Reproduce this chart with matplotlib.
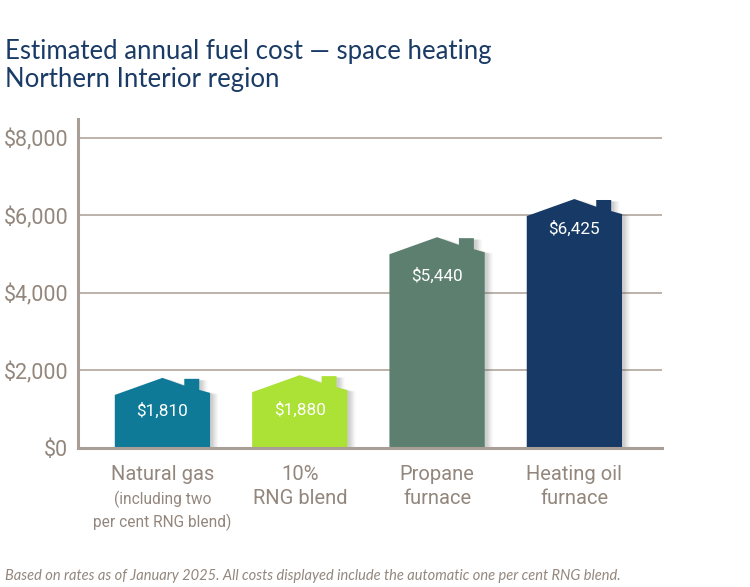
# -*- coding: utf-8 -*-
import matplotlib
matplotlib.use("Agg")
import matplotlib.pyplot as plt
import matplotlib.patheffects as pe

categories = ["Natural gas", "10%\nRNG blend", "Propane\nfurnace", "Heating oil\nfurnace"]
sub_labels = ["(including two\nper cent RNG blend)", "", "", ""]
costs = [1810, 1880, 5440, 6425]
value_labels = ["$1,810", "$1,880", "$5,440", "$6,425"]
colors = ["#0e7a97", "#ace136", "#5c7f70", "#163a65"]
y_ticks = [0, 2000, 4000, 6000, 8000]
y_tick_labels = ["$0", "$2,000", "$4,000", "$6,000", "$8,000"]

TITLE = "Estimated annual fuel cost \u2014 space heating\nNorthern Interior region"
NOTE = "Based on rates as of January 2025. All costs displayed include the automatic one per cent RNG blend."
GREY = "#93877d"
LINE = "#a89e95"
NARROW = ["Roboto", "DejaVu Sans"]

W, H = 750, 587
fig = plt.figure(figsize=(W / 100, H / 100), dpi=100)
ax = fig.add_axes([78 / W, 1 - 448 / H, 584 / W, 329 / H])
ax.set_xlim(-0.615, 3.638)
ax.set_ylim(0, 8490)

ax.grid(axis="y", color=LINE, linewidth=1.1, zorder=1)
ax.set_axisbelow(True)
for s in ["top", "right"]:
    ax.spines[s].set_visible(False)
for s in ["left", "bottom"]:
    ax.spines[s].set_color(LINE)
    ax.spines[s].set_linewidth(2.2)
    ax.spines[s].set_zorder(5)
ax.set_xticks([])
ax.set_yticks(y_ticks)
ax.set_yticklabels(y_tick_labels, family=NARROW, fontsize=15.5, color=GREY)
ax.tick_params(axis="y", length=0, pad=7)

# house outline, x in bar units, y in dollars below the roof peak
half = 0.347
roof_x = [-half, 0, 0.159, 0.159, 0.268, 0.268, half, half, -half]
roof_drop = [440, 0, 200, 25, 25, 310, 390, None, None]
label_drop = [850, 900, 1000, 775]

shadow = []
for dx, a in [(6, 0.03), (5, 0.05), (4, 0.06), (3, 0.08), (2, 0.08)]:
    shadow.append(pe.SimplePatchShadow(offset=(dx, -1), shadow_rgbFace="#555555", alpha=a))
shadow.append(pe.Normal())

for i, cost in enumerate(costs):
    xs = [i + x for x in roof_x]
    ys = [cost - d if d is not None else 0 for d in roof_drop]
    poly = ax.fill(xs, ys, color=colors[i], linewidth=0, zorder=3)[0]
    poly.set_path_effects(shadow)
    ax.text(i, cost - label_drop[i], value_labels[i], ha="center", va="center", color="white",
            family=NARROW, fontsize=12.3, zorder=4)

for i, name in enumerate(categories):
    ax.text(i, -430, name, ha="center", va="top", color=GREY, family=NARROW,
            fontsize=14.5, linespacing=1.35)
    if sub_labels[i]:
        ax.text(i, -1090, sub_labels[i], ha="center", va="top", color=GREY, family=NARROW,
                fontsize=11.2, linespacing=1.48)

fig.text(5 / W, 1 - 38.5 / H, TITLE, ha="left", va="top", color="#1a3b66", family="Lato",
         fontsize=18.5, linespacing=1.18)
fig.text(5 / W, 1 - 576 / H, NOTE, ha="left", va="center", color=GREY, family="Lato",
         style="italic", fontsize=10.5)

fig.savefig("out.png", dpi=100)
